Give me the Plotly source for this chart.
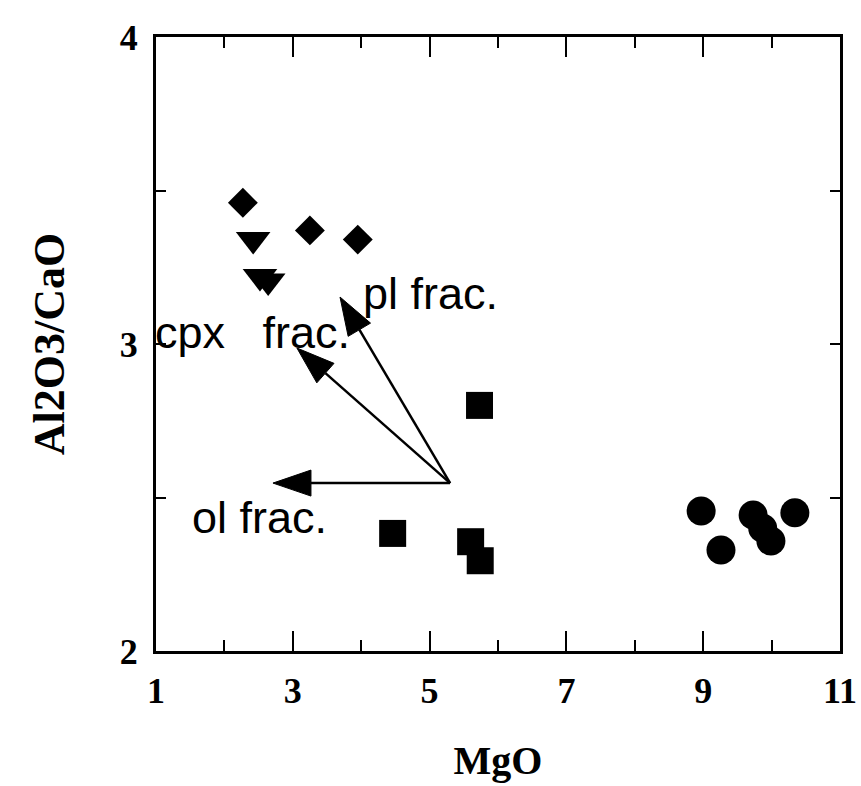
import math
import plotly.graph_objects as go

# Sample groups: MgO (wt%) vs Al2O3/CaO
diamond_mgo = [2.27, 3.25, 3.95]
diamond_ratio = [3.46, 3.37, 3.34]
triangle_mgo = [2.42, 2.52, 2.64]
triangle_ratio = [3.34, 3.22, 3.205]
square_mgo = [5.73, 4.46, 5.60, 5.74]
square_ratio = [2.80, 2.383, 2.356, 2.294]
circle_mgo = [8.97, 9.26, 9.73, 9.87, 9.99, 10.34]
circle_ratio = [2.456, 2.329, 2.443, 2.40, 2.358, 2.450]

# Fractionation vectors, all starting from one common point
vector_origin_mgo = 5.30
vector_origin_ratio = 2.547
vector_tip_mgo = [2.71, 3.06, 3.69]
vector_tip_ratio = [2.547, 2.987, 3.153]
vector_labels = ["ol frac.", "cpx&nbsp;&nbsp;&nbsp;frac.", "pl frac."]
label_mgo = [1.49, 1.01, 3.99]
label_ratio = [2.435, 3.037, 3.164]
label_shift = [0, -4, 0]

# Axis ticks
x_range = [1, 11]
y_range = [2, 4]
x_ticks = [1, 3, 5, 7, 9, 11]
x_minor = [2, 4, 6, 8, 10]
y_ticks = [2, 3, 4]
y_minor = [2.5, 3.5]

W, H = 861, 786
ML, MR, MT, MB = 156, 21, 37, 135
px_x = (W - ML - MR) / (x_range[1] - x_range[0])
px_y = (H - MT - MB) / (y_range[1] - y_range[0])
HEAD_LEN, HEAD_HALF = 38, 13

fig = go.Figure()

marker_sets = [
    (diamond_mgo, diamond_ratio, "diamond", 23),
    (triangle_mgo, triangle_ratio, "triangle-down", 30),
    (square_mgo, square_ratio, "square", 27),
    (circle_mgo, circle_ratio, "circle", 29),
]
for xs, ys, sym, size in marker_sets:
    fig.add_trace(go.Scatter(
        x=xs, y=ys, mode="markers",
        marker=dict(symbol=sym, size=size, color="black", line=dict(width=0)),
        showlegend=False, hoverinfo="x+y",
    ))

# Arrows: shaft line plus filled triangular head (head sized in screen pixels)
for tx, ty in zip(vector_tip_mgo, vector_tip_ratio):
    dx = (tx - vector_origin_mgo) * px_x
    dy = (ty - vector_origin_ratio) * px_y
    length = math.hypot(dx, dy)
    ux, uy = dx / length, dy / length
    bx = tx - ux * HEAD_LEN / px_x
    by = ty - uy * HEAD_LEN / px_y
    c1x = bx - uy * HEAD_HALF / px_x
    c1y = by + ux * HEAD_HALF / px_y
    c2x = bx + uy * HEAD_HALF / px_x
    c2y = by - ux * HEAD_HALF / px_y
    fig.add_trace(go.Scatter(
        x=[vector_origin_mgo, bx], y=[vector_origin_ratio, by], mode="lines",
        line=dict(color="black", width=2.5), showlegend=False, hoverinfo="skip",
    ))
    fig.add_trace(go.Scatter(
        x=[tx, c1x, c2x, tx], y=[ty, c1y, c2y, ty], mode="lines",
        fill="toself", fillcolor="black", line=dict(color="black", width=1),
        showlegend=False, hoverinfo="skip",
    ))

for text, lx, ly, sh in zip(vector_labels, label_mgo, label_ratio, label_shift):
    fig.add_annotation(
        x=lx, y=ly, text=text, showarrow=False, xanchor="left", yanchor="middle",
        xshift=sh, font=dict(family="Liberation Sans", size=45, color="black"),
    )

serif_bold = dict(family="Liberation Serif", size=36, color="black", weight="bold")
common_axis = dict(
    showline=True, linecolor="black", linewidth=3, mirror="allticks",
    ticks="inside", tickcolor="black", tickwidth=2,
    showgrid=False, zeroline=False, tickfont=serif_bold,
)

fig.update_xaxes(
    range=x_range, tickvals=x_ticks, ticklen=20, ticklabelstandoff=6,
    minor=dict(tickvals=x_minor, ticks="inside", ticklen=11, tickwidth=2, tickcolor="black"),
    title=dict(text="MgO", font=dict(family="Liberation Serif", size=40, color="black", weight="bold"), standoff=36),
    **common_axis,
)
fig.update_yaxes(
    range=y_range, tickvals=y_ticks, ticklen=10, ticklabelstandoff=8,
    minor=dict(tickvals=y_minor, ticks="inside", ticklen=10, tickwidth=2, tickcolor="black"),
    title=dict(text="Al2O3/CaO", font=dict(family="Liberation Serif", size=44, color="black", weight="bold"), standoff=42),
    **common_axis,
)

fig.update_layout(
    width=W, height=H,
    margin=dict(l=ML, r=MR, t=MT, b=MB, autoexpand=False),
    plot_bgcolor="white", paper_bgcolor="white",
    showlegend=False,
)

fig.write_html("out.html")
